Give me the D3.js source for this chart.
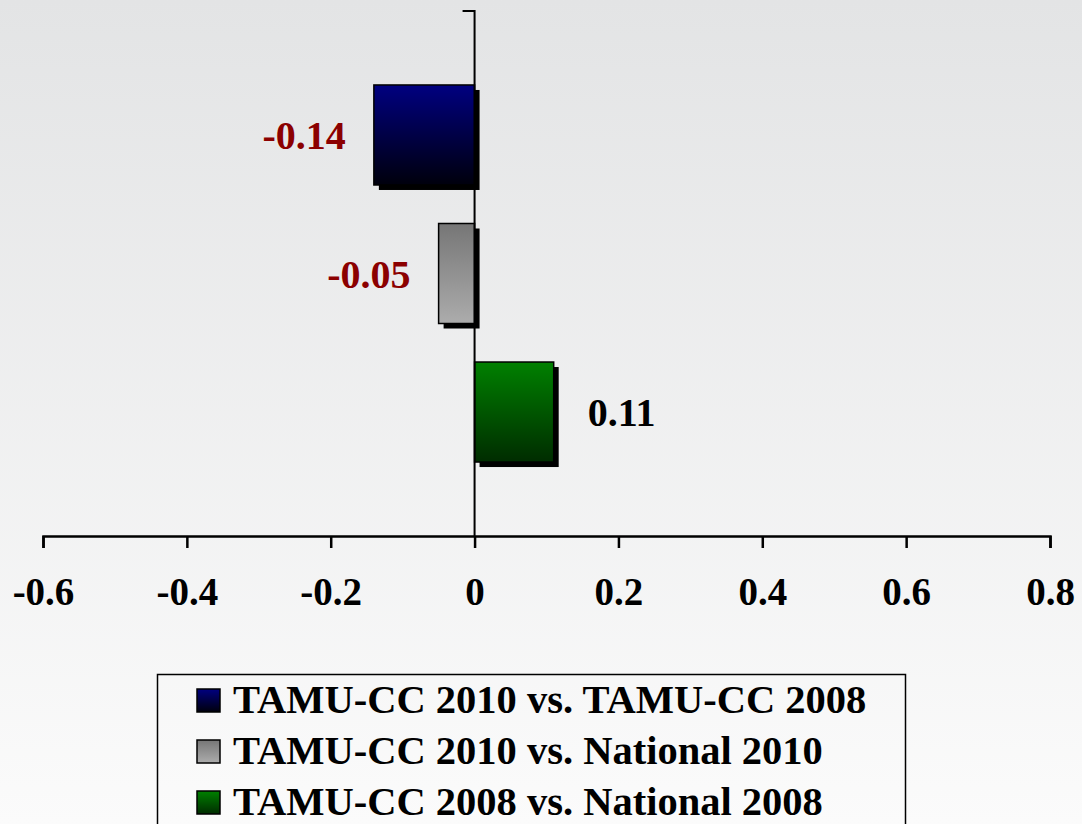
<!DOCTYPE html>
<html>
<head>
<meta charset="utf-8">
<script src="https://cdn.jsdelivr.net/npm/d3@7"></script>
<style>
  body { margin: 0; }
  svg text { font-family: "Liberation Serif", "Times New Roman", serif; font-weight: bold; }
</style>
</head>
<body>
<svg id="chart"></svg>
<script>
const series = ['TAMU-CC 2010 vs. TAMU-CC 2008', 'TAMU-CC 2010 vs. National 2010', 'TAMU-CC 2008 vs. National 2008'];
const values = [-0.14, -0.05, 0.11];
const labels = ['-0.14', '-0.05', '0.11'];
const xTicks = [-0.6, -0.4, -0.2, 0, 0.2, 0.4, 0.6, 0.8];

const width = 1082,
  height = 824;

const svg = d3.select('#chart')
  .attr('width', width)
  .attr('height', height);

const defs = svg.append('defs');

const bg = defs.append('linearGradient')
  .attr('id', 'bg')
  .attr('x1', 0).attr('y1', 0).attr('x2', 0).attr('y2', 1);
bg.append('stop').attr('offset', '0%').attr('stop-color', '#e3e4e5');
bg.append('stop').attr('offset', '100%').attr('stop-color', '#fbfbfb');

const fills = [['#000080', '#00000c'], ['#767676', '#acacac'], ['#008000', '#002c00']];
fills.forEach((c, i) => {
  const g = defs.append('linearGradient')
    .attr('id', 'fill' + i)
    .attr('x1', 0).attr('y1', 0).attr('x2', 0).attr('y2', 1);
  g.append('stop').attr('offset', '0%').attr('stop-color', c[0]);
  g.append('stop').attr('offset', '100%').attr('stop-color', c[1]);
});

svg.append('rect')
  .attr('width', width)
  .attr('height', height)
  .attr('fill', 'url(#bg)');

const x = d3.scaleLinear()
  .domain([-0.6, 0.8])
  .range([43, 1050]);

const y = d3.scaleBand()
  .domain(series)
  .range([11, 536])
  .paddingInner(0.278)
  .paddingOuter(0.534);

// bar shadows
svg.append('g').selectAll('rect')
  .data(values)
  .enter().append('rect')
  .attr('x', d => Math.min(x(d), x(0)) + 5)
  .attr('y', (d, i) => y(series[i]) + 5)
  .attr('width', d => Math.abs(x(d) - x(0)))
  .attr('height', y.bandwidth())
  .attr('fill', '#000');

svg.append('g').selectAll('rect')
  .data(values)
  .enter().append('rect')
  .attr('x', d => Math.min(x(d), x(0)))
  .attr('y', (d, i) => y(series[i]))
  .attr('width', d => Math.abs(x(d) - x(0)))
  .attr('height', y.bandwidth())
  .attr('fill', (d, i) => `url(#fill${i})`)
  .attr('stroke', '#000')
  .attr('stroke-width', 1.5);

svg.append('g').selectAll('text')
  .data(values)
  .enter().append('text')
  .attr('x', d => d < 0 ? x(d) - 28 : x(d) + 34)
  .attr('y', (d, i) => y(series[i]) + y.bandwidth() / 2)
  .attr('dy', '0.35em')
  .attr('text-anchor', d => d < 0 ? 'end' : 'start')
  .attr('font-size', 40)
  .attr('fill', d => d < 0 ? '#8b0000' : '#000')
  .text((d, i) => labels[i]);

// vertical axis
svg.append('path')
  .attr('d', `M${x(0) - 12},11H${x(0)}V536`)
  .attr('fill', 'none')
  .attr('stroke', '#000')
  .attr('stroke-width', 2);

const xAxis = svg.append('g')
  .attr('transform', 'translate(0,536)')
  .call(d3.axisBottom(x)
    .tickValues(xTicks)
    .tickSize(12)
    .tickPadding(29)
    .tickFormat(d => d === 0 ? '0' : (d < 0 ? '-' : '') + Math.abs(d).toFixed(1)));

xAxis.select('.domain').attr('stroke-width', 2.5);
xAxis.selectAll('.tick line').attr('stroke-width', 2.5);
xAxis.selectAll('.tick text')
  .attr('font-size', 39)
  .attr('font-family', '"Liberation Serif", serif')
  .attr('fill', '#000');

// legend
const legend = svg.append('g');

legend.append('rect')
  .attr('x', 157.5)
  .attr('y', 674.5)
  .attr('width', 748)
  .attr('height', 170)
  .attr('fill', 'none')
  .attr('stroke', '#000')
  .attr('stroke-width', 1.5);

const item = legend.selectAll('g')
  .data(series)
  .enter().append('g')
  .attr('transform', (d, i) => `translate(0,${i * 51})`);

item.append('rect')
  .attr('x', 197)
  .attr('y', 689)
  .attr('width', 23)
  .attr('height', 23)
  .attr('fill', (d, i) => `url(#fill${i})`)
  .attr('stroke', '#000')
  .attr('stroke-width', 1.5);

item.append('text')
  .attr('x', 233)
  .attr('y', 713)
  .attr('font-size', 40.5)
  .text(d => d);
</script>
</body>
</html>
